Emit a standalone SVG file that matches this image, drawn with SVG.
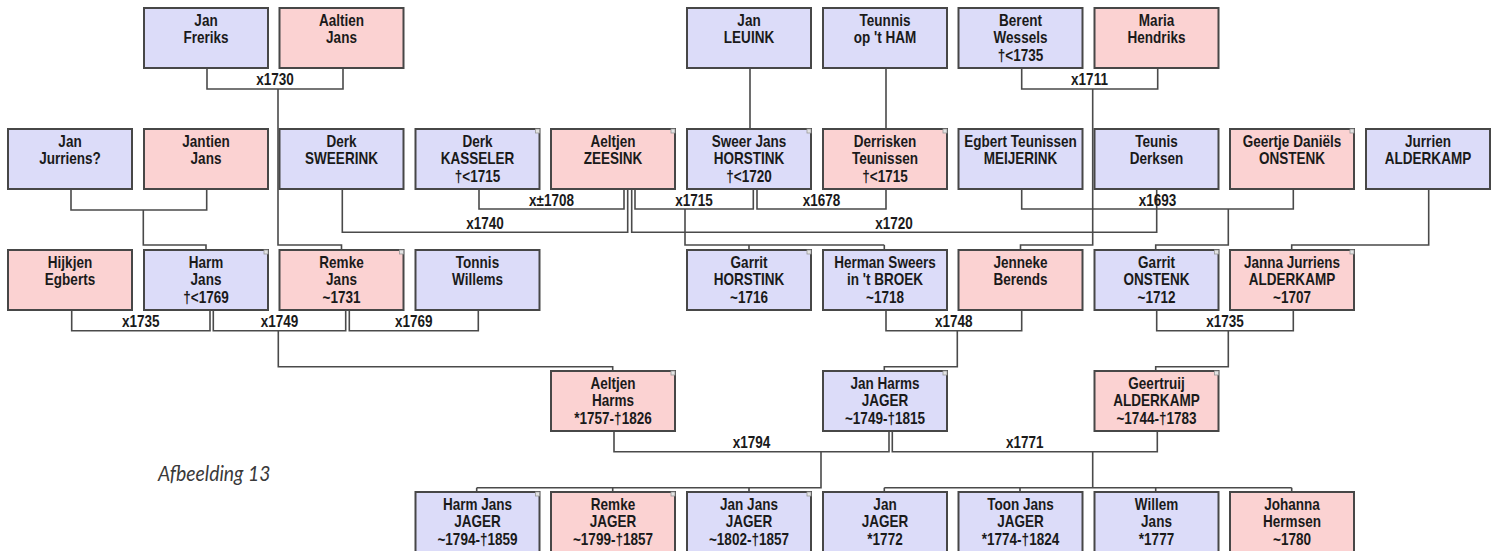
<svg xmlns="http://www.w3.org/2000/svg" width="1494" height="551" viewBox="0 0 1494 551">
<style>
.bg{fill:#ffffff}
.m{fill:#dcdcf9;stroke:#474747;stroke-width:2}
.f{fill:#fbd2d2;stroke:#474747;stroke-width:2}
.k{fill:#e4e4e4;stroke:#9a9a9a;stroke-width:0.8}
.t{font-family:"Liberation Sans",Arial,sans-serif;font-weight:bold;font-size:16.5px;fill:#1a1a1a;text-anchor:middle}
.c{fill:none;stroke:#4a4a4a;stroke-width:1.6}
.cap{font-family:Lato,"Open Sans",sans-serif;font-style:italic;font-size:22px;fill:#3a3a3a}
</style>
<rect class="bg" x="0" y="0" width="1494" height="551"/>

<g id="connectors">
<path class="c" d="M207,68V89H343V68M278,89V245H341.5V250"/>
<path class="c" d="M750,68V129M886,68V129"/>
<path class="c" d="M1021.7,68V89H1157.7V68M1092.7,89V245H1020.5V250"/>
<path class="c" d="M71,189V210H206.7V189M143.3,210V245H206V250"/>
<path class="c" d="M342.3,189V232.3H627.7V189"/>
<path class="c" d="M479,189V209H624V189"/>
<path class="c" d="M635,189V209H753.3V189M685,209V245H884.3M749,245V250M884.3,245V250"/>
<path class="c" d="M757,189V209H886V189"/>
<path class="c" d="M631.7,189V232.3H1156.7V189"/>
<path class="c" d="M1021.7,189V209H1293.3V189M1228.3,209V245H1155.7V250"/>
<path class="c" d="M1428.7,189V245H1291.7V250"/>
<path class="c" d="M71.7,310V330.7H210V310"/>
<path class="c" d="M213.3,310V330.7H345.7V310M278.3,330.7V366.7H612.7V371"/>
<path class="c" d="M349.3,310V330.7H478.3V310"/>
<path class="c" d="M886,310V330.7H1021.7V310M957.3,330.7V366.7H884.3V371"/>
<path class="c" d="M1156.7,310V330.7H1293.3V310M1228.3,330.7V366.7H1155.7V371"/>
<path class="c" d="M614,431V451.7H889V431M821,451.7V487.7H476.7M476.7,487.7V492M612.7,487.7V492M749,487.7V492"/>
<path class="c" d="M892.3,431V451.7H1157.3V431M1092.7,451.7V487.7M884.3,487.7H1291.7M884.3,487.7V492M1020,487.7V492M1155.7,487.7V492M1291.7,487.7V492"/>
<g class="t">
<text transform="matrix(0.82 0 0 1 275 85)">x1730</text>
<text transform="matrix(0.82 0 0 1 1089.5 85)">x1711</text>
<text transform="matrix(0.82 0 0 1 551.5 205.5)">x±1708</text>
<text transform="matrix(0.82 0 0 1 694 205.5)">x1715</text>
<text transform="matrix(0.82 0 0 1 821.5 205.5)">x1678</text>
<text transform="matrix(0.82 0 0 1 1157.5 205.5)">x1693</text>
<text transform="matrix(0.82 0 0 1 485 228.5)">x1740</text>
<text transform="matrix(0.82 0 0 1 894 228.5)">x1720</text>
<text transform="matrix(0.82 0 0 1 140.8 327)">x1735</text>
<text transform="matrix(0.82 0 0 1 279.5 327)">x1749</text>
<text transform="matrix(0.82 0 0 1 413.8 327)">x1769</text>
<text transform="matrix(0.82 0 0 1 953.8 327)">x1748</text>
<text transform="matrix(0.82 0 0 1 1225 327)">x1735</text>
<text transform="matrix(0.82 0 0 1 751.5 448)">x1794</text>
<text transform="matrix(0.82 0 0 1 1024.8 448)">x1771</text>
</g>
</g>

<g id="n-jan-freriks"><rect class="m" x="144" y="8" width="124" height="60"/><text class="t" transform="matrix(0.82 0 0 1 206 8)"><tspan x="0" y="18">Jan</tspan><tspan x="0" y="35.5">Freriks</tspan></text></g>
<g id="n-aaltien-jans"><rect class="f" x="279.5" y="8" width="124" height="60"/><text class="t" transform="matrix(0.82 0 0 1 341.5 8)"><tspan x="0" y="18">Aaltien</tspan><tspan x="0" y="35.5">Jans</tspan></text></g>
<g id="n-jan-leuink"><rect class="m" x="687" y="8" width="124" height="60"/><text class="t" transform="matrix(0.82 0 0 1 749 8)"><tspan x="0" y="18">Jan</tspan><tspan x="0" y="35.5">LEUINK</tspan></text></g>
<g id="n-teunnis-op-t-ham"><rect class="m" x="823" y="8" width="124" height="60"/><text class="t" transform="matrix(0.82 0 0 1 885 8)"><tspan x="0" y="18">Teunnis</tspan><tspan x="0" y="35.5">op 't HAM</tspan></text></g>
<g id="n-berent-wessels"><rect class="m" x="958.5" y="8" width="124" height="60"/><text class="t" transform="matrix(0.82 0 0 1 1020.5 8)"><tspan x="0" y="18">Berent</tspan><tspan x="0" y="35.5">Wessels</tspan><tspan x="0" y="53">†&lt;1735</tspan></text></g>
<g id="n-maria-hendriks"><rect class="f" x="1094.5" y="8" width="124" height="60"/><text class="t" transform="matrix(0.82 0 0 1 1156.5 8)"><tspan x="0" y="18">Maria</tspan><tspan x="0" y="35.5">Hendriks</tspan></text></g>

<g id="n-jan-jurriens"><rect class="m" x="8" y="129" width="124" height="60"/><text class="t" transform="matrix(0.82 0 0 1 70 129)"><tspan x="0" y="18">Jan</tspan><tspan x="0" y="35.5">Jurriens?</tspan></text></g>
<g id="n-jantien-jans"><rect class="f" x="144" y="129" width="124" height="60"/><text class="t" transform="matrix(0.82 0 0 1 206 129)"><tspan x="0" y="18">Jantien</tspan><tspan x="0" y="35.5">Jans</tspan></text></g>
<g id="n-derk-sweerink"><rect class="m" x="279.5" y="129" width="124" height="60"/><text class="t" transform="matrix(0.82 0 0 1 341.5 129)"><tspan x="0" y="18">Derk</tspan><tspan x="0" y="35.5">SWEERINK</tspan></text></g>
<g id="n-derk-kasseler"><rect class="m" x="415.5" y="129" width="124" height="60"/><rect class="k" x="535.5" y="129" width="4" height="4"/><text class="t" transform="matrix(0.82 0 0 1 477.5 129)"><tspan x="0" y="18">Derk</tspan><tspan x="0" y="35.5">KASSELER</tspan><tspan x="0" y="53">†&lt;1715</tspan></text></g>
<g id="n-aeltjen-zeesink"><rect class="f" x="551" y="129" width="124" height="60"/><rect class="k" x="671" y="129" width="4" height="4"/><text class="t" transform="matrix(0.82 0 0 1 613 129)"><tspan x="0" y="18">Aeltjen</tspan><tspan x="0" y="35.5">ZEESINK</tspan></text></g>
<g id="n-sweer-jans-horstink"><rect class="m" x="687" y="129" width="124" height="60"/><rect class="k" x="807" y="129" width="4" height="4"/><text class="t" transform="matrix(0.82 0 0 1 749 129)"><tspan x="0" y="18">Sweer Jans</tspan><tspan x="0" y="35.5">HORSTINK</tspan><tspan x="0" y="53">†&lt;1720</tspan></text></g>
<g id="n-derrisken-teunissen"><rect class="f" x="823" y="129" width="124" height="60"/><rect class="k" x="943" y="129" width="4" height="4"/><text class="t" transform="matrix(0.82 0 0 1 885 129)"><tspan x="0" y="18">Derrisken</tspan><tspan x="0" y="35.5">Teunissen</tspan><tspan x="0" y="53">†&lt;1715</tspan></text></g>
<g id="n-egbert-teunissen-meijerink"><rect class="m" x="958.5" y="129" width="124" height="60"/><text class="t" transform="matrix(0.82 0 0 1 1020.5 129)"><tspan x="0" y="18">Egbert Teunissen</tspan><tspan x="0" y="35.5">MEIJERINK</tspan></text></g>
<g id="n-teunis-derksen"><rect class="m" x="1094.5" y="129" width="124" height="60"/><text class="t" transform="matrix(0.82 0 0 1 1156.5 129)"><tspan x="0" y="18">Teunis</tspan><tspan x="0" y="35.5">Derksen</tspan></text></g>
<g id="n-geertje-daniels-onstenk"><rect class="f" x="1230" y="129" width="124" height="60"/><rect class="k" x="1350" y="129" width="4" height="4"/><text class="t" transform="matrix(0.82 0 0 1 1292 129)"><tspan x="0" y="18">Geertje Daniëls</tspan><tspan x="0" y="35.5">ONSTENK</tspan></text></g>
<g id="n-jurrien-alderkamp"><rect class="m" x="1366" y="129" width="124" height="60"/><text class="t" transform="matrix(0.82 0 0 1 1428 129)"><tspan x="0" y="18">Jurrien</tspan><tspan x="0" y="35.5">ALDERKAMP</tspan></text></g>

<g id="n-hijkjen-egberts"><rect class="f" x="8" y="250" width="124" height="60"/><text class="t" transform="matrix(0.82 0 0 1 70 250)"><tspan x="0" y="18">Hijkjen</tspan><tspan x="0" y="35.5">Egberts</tspan></text></g>
<g id="n-harm-jans"><rect class="m" x="144" y="250" width="124" height="60"/><rect class="k" x="264" y="250" width="4" height="4"/><text class="t" transform="matrix(0.82 0 0 1 206 250)"><tspan x="0" y="18">Harm</tspan><tspan x="0" y="35.5">Jans</tspan><tspan x="0" y="53">†&lt;1769</tspan></text></g>
<g id="n-remke-jans"><rect class="f" x="279.5" y="250" width="124" height="60"/><rect class="k" x="399.5" y="250" width="4" height="4"/><text class="t" transform="matrix(0.82 0 0 1 341.5 250)"><tspan x="0" y="18">Remke</tspan><tspan x="0" y="35.5">Jans</tspan><tspan x="0" y="53">~1731</tspan></text></g>
<g id="n-tonnis-willems"><rect class="m" x="415.5" y="250" width="124" height="60"/><text class="t" transform="matrix(0.82 0 0 1 477.5 250)"><tspan x="0" y="18">Tonnis</tspan><tspan x="0" y="35.5">Willems</tspan></text></g>
<g id="n-garrit-horstink"><rect class="m" x="687" y="250" width="124" height="60"/><rect class="k" x="807" y="250" width="4" height="4"/><text class="t" transform="matrix(0.82 0 0 1 749 250)"><tspan x="0" y="18">Garrit</tspan><tspan x="0" y="35.5">HORSTINK</tspan><tspan x="0" y="53">~1716</tspan></text></g>
<g id="n-herman-sweers-in-t-broek"><rect class="m" x="823" y="250" width="124" height="60"/><text class="t" transform="matrix(0.82 0 0 1 885 250)"><tspan x="0" y="18">Herman Sweers</tspan><tspan x="0" y="35.5">in 't BROEK</tspan><tspan x="0" y="53">~1718</tspan></text></g>
<g id="n-jenneke-berends"><rect class="f" x="958.5" y="250" width="124" height="60"/><text class="t" transform="matrix(0.82 0 0 1 1020.5 250)"><tspan x="0" y="18">Jenneke</tspan><tspan x="0" y="35.5">Berends</tspan></text></g>
<g id="n-garrit-onstenk"><rect class="m" x="1094.5" y="250" width="124" height="60"/><rect class="k" x="1214.5" y="250" width="4" height="4"/><text class="t" transform="matrix(0.82 0 0 1 1156.5 250)"><tspan x="0" y="18">Garrit</tspan><tspan x="0" y="35.5">ONSTENK</tspan><tspan x="0" y="53">~1712</tspan></text></g>
<g id="n-janna-jurriens-alderkamp"><rect class="f" x="1230" y="250" width="124" height="60"/><rect class="k" x="1350" y="250" width="4" height="4"/><text class="t" transform="matrix(0.82 0 0 1 1292 250)"><tspan x="0" y="18">Janna Jurriens</tspan><tspan x="0" y="35.5">ALDERKAMP</tspan><tspan x="0" y="53">~1707</tspan></text></g>

<g id="n-aeltjen-harms"><rect class="f" x="551" y="371" width="124" height="60"/><rect class="k" x="671" y="371" width="4" height="4"/><text class="t" transform="matrix(0.82 0 0 1 613 371)"><tspan x="0" y="18">Aeltjen</tspan><tspan x="0" y="35.5">Harms</tspan><tspan x="0" y="53">*1757-†1826</tspan></text></g>
<g id="n-jan-harms-jager"><rect class="m" x="823" y="371" width="124" height="60"/><rect class="k" x="943" y="371" width="4" height="4"/><text class="t" transform="matrix(0.82 0 0 1 885 371)"><tspan x="0" y="18">Jan Harms</tspan><tspan x="0" y="35.5">JAGER</tspan><tspan x="0" y="53">~1749-†1815</tspan></text></g>
<g id="n-geertruij-alderkamp"><rect class="f" x="1094.5" y="371" width="124" height="60"/><rect class="k" x="1214.5" y="371" width="4" height="4"/><text class="t" transform="matrix(0.82 0 0 1 1156.5 371)"><tspan x="0" y="18">Geertruij</tspan><tspan x="0" y="35.5">ALDERKAMP</tspan><tspan x="0" y="53">~1744-†1783</tspan></text></g>

<g id="n-harm-jans-jager"><rect class="m" x="415.5" y="492" width="124" height="60"/><rect class="k" x="535.5" y="492" width="4" height="4"/><text class="t" transform="matrix(0.82 0 0 1 477.5 492)"><tspan x="0" y="18">Harm Jans</tspan><tspan x="0" y="35.5">JAGER</tspan><tspan x="0" y="53">~1794-†1859</tspan></text></g>
<g id="n-remke-jager"><rect class="f" x="551" y="492" width="124" height="60"/><rect class="k" x="671" y="492" width="4" height="4"/><text class="t" transform="matrix(0.82 0 0 1 613 492)"><tspan x="0" y="18">Remke</tspan><tspan x="0" y="35.5">JAGER</tspan><tspan x="0" y="53">~1799-†1857</tspan></text></g>
<g id="n-jan-jans-jager"><rect class="m" x="687" y="492" width="124" height="60"/><rect class="k" x="807" y="492" width="4" height="4"/><text class="t" transform="matrix(0.82 0 0 1 749 492)"><tspan x="0" y="18">Jan Jans</tspan><tspan x="0" y="35.5">JAGER</tspan><tspan x="0" y="53">~1802-†1857</tspan></text></g>
<g id="n-jan-jager"><rect class="m" x="823" y="492" width="124" height="60"/><text class="t" transform="matrix(0.82 0 0 1 885 492)"><tspan x="0" y="18">Jan</tspan><tspan x="0" y="35.5">JAGER</tspan><tspan x="0" y="53">*1772</tspan></text></g>
<g id="n-toon-jans-jager"><rect class="m" x="958.5" y="492" width="124" height="60"/><text class="t" transform="matrix(0.82 0 0 1 1020.5 492)"><tspan x="0" y="18">Toon Jans</tspan><tspan x="0" y="35.5">JAGER</tspan><tspan x="0" y="53">*1774-†1824</tspan></text></g>
<g id="n-willem-jans"><rect class="m" x="1094.5" y="492" width="124" height="60"/><text class="t" transform="matrix(0.82 0 0 1 1156.5 492)"><tspan x="0" y="18">Willem</tspan><tspan x="0" y="35.5">Jans</tspan><tspan x="0" y="53">*1777</tspan></text></g>
<g id="n-johanna-hermsen"><rect class="f" x="1230" y="492" width="124" height="60"/><text class="t" transform="matrix(0.82 0 0 1 1292 492)"><tspan x="0" y="18">Johanna</tspan><tspan x="0" y="35.5">Hermsen</tspan><tspan x="0" y="53">~1780</tspan></text></g>

<text class="cap" transform="matrix(0.88 0 0 1 158 481)">Afbeelding 13</text>
</svg>
